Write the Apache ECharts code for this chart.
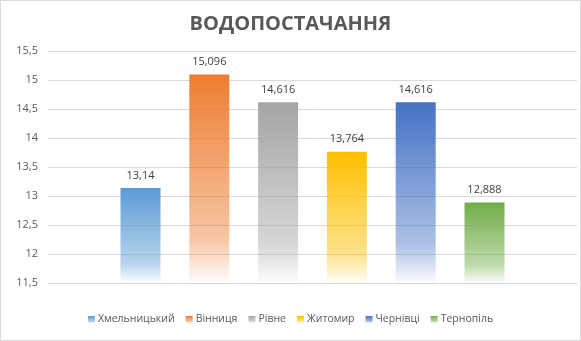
<!DOCTYPE html>
<html>
<head>
<meta charset="utf-8">
<script src="https://cdn.jsdelivr.net/npm/echarts@6/dist/echarts.min.js"></script>
<style>
  html, body { margin: 0; padding: 0; background: #fff; }
  #chart { width: 581px; height: 341px; box-sizing: border-box; border: 1px solid #d9d9d9; }
</style>
</head>
<body>
<div id="chart"></div>
<script>
// дані
var cities = ['Хмельницький', 'Вінниця', 'Рівне', 'Житомир', 'Чернівці', 'Тернопіль'];
var values = [13.14, 15.096, 14.616, 13.764, 14.616, 12.888];
var colors = ['#5b9bd5', '#ed7d31', '#a5a5a5', '#ffc000', '#4472c4', '#70ad47'];

function hexA(hex, a) {
  var n = parseInt(hex.slice(1), 16);
  return 'rgba(' + (n >> 16) + ',' + ((n >> 8) & 255) + ',' + (n & 255) + ',' + a + ')';
}
function fade(hex) {
  return new echarts.graphic.LinearGradient(0, 0, 0, 1, [
    { offset: 0, color: hexA(hex, 1) },
    { offset: 0.78, color: hexA(hex, 0.45) },
    { offset: 1, color: hexA(hex, 0.02) }
  ]);
}
function comma(v) {
  return String(v).replace('.', ',');
}

var chart = echarts.init(document.getElementById('chart'));
var series = cities.map(function (name, i) {
  return {
    name: name,
    type: 'bar',
    data: [values[i]],
    barWidth: 40,
    barGap: '72%',
    itemStyle: { color: fade(colors[i]) },
    label: {
      show: true,
      position: 'top',
      distance: 7,
      color: '#404040',
      fontSize: 11,
      fontFamily: 'Open Sans',
      formatter: function (p) { return comma(p.value); }
    }
  };
});

chart.setOption({
  backgroundColor: '#ffffff',
  animation: false,
  title: {
    text: 'ВОДОПОСТАЧАННЯ',
    left: 'center',
    top: 8,
    textStyle: { color: '#595959', fontSize: 20, fontWeight: 'bold', fontFamily: 'Open Sans' }
  },
  legend: {
    bottom: 10,
    left: 'center',
    icon: 'rect',
    itemWidth: 7,
    itemHeight: 7,
    itemGap: 11,
    textStyle: { color: '#595959', fontSize: 10.5, fontFamily: 'Open Sans', padding: [0, 0, 0, -2] },
    data: cities.map(function (c, i) { return { name: c, itemStyle: { color: fade(colors[i]) } }; })
  },
  grid: { left: 47, right: 3, top: 50, bottom: 57 },
  xAxis: {
    type: 'category',
    data: [''],
    axisTick: { show: false },
    axisLabel: { show: false },
    axisLine: { lineStyle: { color: '#d9d9d9' } }
  },
  yAxis: {
    type: 'value',
    min: 11.5,
    max: 15.5,
    interval: 0.5,
    axisLine: { show: false },
    axisTick: { show: false },
    axisLabel: {
      color: '#595959',
      fontSize: 11,
      fontFamily: 'Open Sans',
      margin: 10,
      formatter: comma
    },
    splitLine: { lineStyle: { color: '#d9d9d9' } }
  },
  series: series
});
</script>
</body>
</html>
